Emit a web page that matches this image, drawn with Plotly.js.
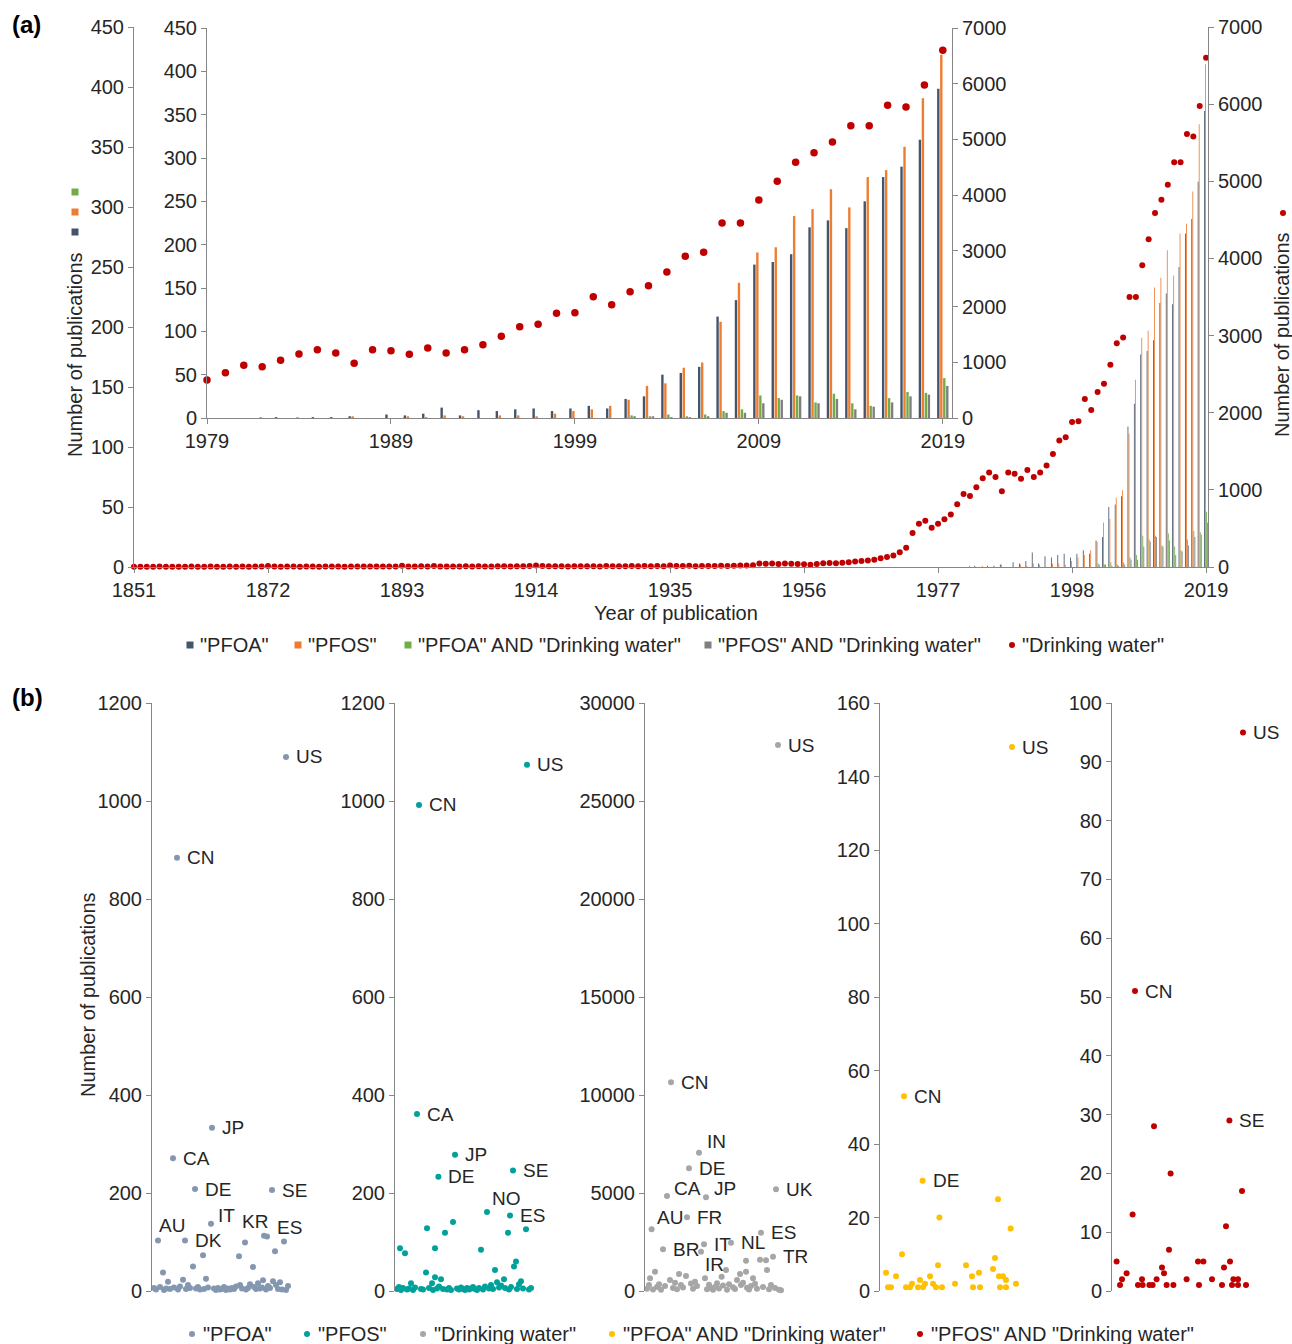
<!DOCTYPE html>
<html>
<head>
<meta charset="utf-8">
<script src="https://cdn.plot.ly/plotly-3.0.1.min.js"></script>
<style>html,body{margin:0;padding:0;background:#fff}#chart{width:1292px;height:1344px}</style>
</head>
<body>
<div id="chart"></div>
<script>
// ---------------- DATA: panel (a) ----------------
const firstYear = 1851;
// "Drinking water" publications per year, 1851-2019 (right axes)
const drinkingWater = [
  3,2,4,3,5,2,3,4,2,5,
  4,3,5,2,4,6,3,5,4,6,
  5,12,6,4,5,7,4,6,5,4,
  6,5,7,4,6,5,8,6,5,7,
  6,8,15,7,6,9,8,12,7,6,
  8,7,9,6,10,8,7,9,11,8,
  9,10,12,20,14,10,9,11,8,10,
  9,11,10,8,12,9,10,11,13,9,
  12,10,14,11,18,13,12,15,11,14,
  13,12,16,14,15,18,20,22,45,42,
  45,40,45,42,40,35,30,40,48,52,
  50,55,60,70,78,85,95,115,130,150,
  190,250,440,560,600,510,560,620,682,813,
  946,921,1035,1149,1226,1167,982,1226,1208,1143,
  1257,1167,1226,1316,1466,1639,1681,1879,1890,2177,
  2034,2267,2375,2621,2902,2974,3500,3500,3913,4248,
  4589,4762,4954,5246,5246,5612,5582,5977,6600
];
const barFirstYear = 1979;
// left axes, 1979-2019
const pfoa = [
  0,0,0,0,1,0,1,1,2,0,
  4,3,5,12,3,9,8,10,11,8,
  11,14,11,22,25,50,52,59,117,136,
  177,180,189,220,228,219,250,278,290,321,380
];
const pfos = [
  0,0,0,1,0,1,0,0,2,0,
  0,2,1,3,2,0,3,3,2,5,
  8,10,14,21,37,40,58,64,111,156,
  191,197,233,241,264,243,278,286,313,369,419
];
const pfoaDW = [
  0,0,0,0,0,0,0,0,0,0,
  0,0,0,0,0,0,0,0,0,0,
  0,0,0,3,2,4,2,4,8,10,
  26,23,26,18,28,17,14,23,30,29,46
];
const pfosDW = [
  0,0,0,0,0,0,0,0,0,0,
  0,0,0,0,0,0,0,0,0,0,
  0,0,0,2,2,1,1,2,6,6,
  17,21,25,17,22,10,13,18,25,27,37
];
const mainTicks = [1851,1872,1893,1914,1935,1956,1977,1998,2019];
const insetTicks = [1979,1989,1999,2009,2019];

// ---------------- DATA: panel (b) ----------------
// x = country position (alphabetical order), y = number of publications; labelled countries first
const pfoaCountry = [3,10.5,12.5,16.5,21.5,29.5,30,46.5,57.5,60,67,
  56,66,5.5,25.5,20.5,43.5,50.5,61.5,8,15.5,27,55.5,60.5,64,68,
  1,2,4,6,7,9,11,13,14,17,18,19,22,23,24,26,28,31,32,33,34,35,36,37,38,39,40,41,42,44,45,47,48,49,51,52,53,54,55,57,58,59,62,63,65,67];
const pfoaCount = [103,271,884,103,208,137,333,99,111,206,1090,
  113,101,38,73,50,71,49,81,19,23,25,22,20,18,10,
  6,3,8,2,5,4,7,3,9,4,12,6,5,8,3,4,7,5,2,6,3,4,8,2,5,3,6,4,9,12,5,3,6,14,8,4,16,5,7,3,10,6,12,4,3,2];
const pfoaLabels = ['AU','CA','CN','DK','DE','IT','JP','KR','ES','SE','US'];

const pfosCountry = [11,12,21.7,30,46,57.5,59,66,
  29,16,25,65.5,56.5,2.5,5,20,43,15.5,50,60.5,59.5,20,23,8,18.5,54.5,63,68,
  1,2,3,4,6,7,9,10,13,14,17,19,21,22,24,26,27,28,31,32,33,34,35,36,37,38,39,40,41,42,44,45,47,48,49,51,52,53,55,57,58,61,62,64,67];
const pfosCount = [361,992,233,278,161,154,246,1074,
  141,128,119,126,119,87,77,87,84,38,43,60,50,28,24,16,16,24,20,6,
  4,8,2,6,3,5,2,7,4,3,6,2,5,9,4,3,6,2,5,3,7,4,2,6,3,5,8,4,2,6,3,9,5,12,4,18,7,11,6,3,8,4,14,5,3];
const pfosLabels = ['CA','CN','DE','JP','NO','ES','SE','US'];

const dwCountry = [3.3,9,11,13,21,22,27,28,29.5,30.5,43,58,64,65.5,66.5,
  50.5,57.5,60.5,61,40.5,38.3,5,2.5,17,20.5,47.5,50.5,12.5,25,30,46,54,
  1,2,4,6,7,8,10,14,15,16,18,19,23,24,26,31,32,33,34,35,36,37,39,41,42,44,45,48,49,51,52,53,55,56,59,62,63,65,67,68];
const dwCount = [3148,2127,4847,10648,3760,6259,7057,2007,2382,4779,2466,2976,1752,5189,27857,
  1548,1600,1570,1071,1071,731,986,646,867,765,867,986,561,476,646,561,646,
  120,300,80,200,350,60,250,150,420,90,300,180,380,110,260,90,320,150,60,210,400,130,280,70,350,190,100,300,420,160,80,250,370,120,200,90,300,150,60,40];
const dwLabels = ['AU','BR','CA','CN','FR','DE','IN','IR','IT','JP','NL','ES','TR','UK','US'];

const pfoaDWCountry = [12,21.3,66,
  59,29.7,65.3,11,57.5,29,43,3,49.5,56.5,8,25,46,20,59.5,61.5,63,26.5,22.5,16,37.5,68,4,5.5,13,15,19,21.5,28,31,46.5,50,60,63];
const pfoaDWCount = [53,30,148,
  25,20,17,10,9,7,7,5,5,6,4,4,4,3,4,4,3,2,2,2,2,2,1,1,1,1,1,1,1,1,1,1,1,1];
const pfoaDWLabels = ['CN','DE','US'];

const pfosDWCountry = [11.5,58.7,65.5,
  21,29.3,65,10.3,57,28.5,2.3,43,45.7,59,56,25,7.3,26,5,15,22.3,37.3,50,60.7,63,4,13,15.3,18.7,20.3,27.3,30.7,43.5,55,60,63,67];
const pfosDWCount = [51,29,95,
  28,20,17,13,11,7,5,5,5,5,4,4,3,3,2,2,2,2,2,2,2,1,1,1,1,1,1,1,1,1,1,1,1];
const pfosDWLabels = ['CN','SE','US'];

const legendA = ['"PFOA"','"PFOS"','"PFOA" AND "Drinking water"','"PFOS" AND "Drinking water"','"Drinking water"'];
const legendB = ['"PFOA"','"PFOS"','"Drinking water"','"PFOA" AND "Drinking water"','"PFOS" AND "Drinking water"'];

// ---------------- STYLE / LAYOUT ----------------
const W = 1292, H = 1344;
const X = px => px / W;
const Y = py => 1 - py / H;
const FONT = 'Liberation Sans, Arial, sans-serif';
const TXT = '#262626';
const AXC = '#868686';
const C = {pfoa:'#44546A', pfos:'#ED7D31', pfoaDW:'#70AD47', pfosDW:'#7F7F7F', dw:'#C00000',
  bPfoa:'#8497B0', bPfos:'#00A19B', bDw:'#A6A6A6', bPfoaDW:'#FFC000', bPfosDW:'#C00000'};

const dwYears = drinkingWater.map((_, i) => firstYear + i);
const barYears = pfoa.map((_, i) => barFirstYear + i);
const insetDW = drinkingWater.slice(barFirstYear - firstYear);

function barTrace(y, color, xa, ya) {
  return {type:'bar', x:barYears, y:y, xaxis:xa, yaxis:ya, marker:{color:color, line:{width:0}},
    hoverinfo:'skip', cliponaxis:false};
}
function dotTrace(x, y, xa, ya, size) {
  return {type:'scatter', mode:'markers', x:x, y:y, xaxis:xa, yaxis:ya,
    marker:{color:C.dw, size:size}, cliponaxis:false, hoverinfo:'skip'};
}
function countryTrace(x, y, color, xa, ya) {
  return {type:'scatter', mode:'markers', x:x, y:y, xaxis:xa, yaxis:ya,
    marker:{color:color, size:6}, cliponaxis:false, hoverinfo:'skip'};
}

const data = [
  barTrace(pfoa, C.pfoa, 'x', 'y'),
  barTrace(pfos, C.pfos, 'x', 'y'),
  barTrace(pfoaDW, C.pfoaDW, 'x', 'y'),
  barTrace(pfosDW, C.pfosDW, 'x', 'y'),
  dotTrace(dwYears, drinkingWater, 'x', 'y2', 6),
  barTrace(pfoa, C.pfoa, 'x2', 'y3'),
  barTrace(pfos, C.pfos, 'x2', 'y3'),
  barTrace(pfoaDW, C.pfoaDW, 'x2', 'y3'),
  barTrace(pfosDW, C.pfosDW, 'x2', 'y3'),
  dotTrace(barYears, insetDW, 'x2', 'y4', 7.5),
  countryTrace(pfoaCountry, pfoaCount, C.bPfoa, 'x3', 'y5'),
  countryTrace(pfosCountry, pfosCount, C.bPfos, 'x4', 'y6'),
  countryTrace(dwCountry, dwCount, C.bDw, 'x5', 'y7'),
  countryTrace(pfoaDWCountry, pfoaDWCount, C.bPfoaDW, 'x6', 'y8'),
  countryTrace(pfosDWCountry, pfosDWCount, C.bPfosDW, 'x7', 'y9')
];

const tickfont = {family:FONT, size:20, color:TXT};
function yAxis(domain, range, dtick, anchor, extra) {
  return Object.assign({domain:domain, range:range, dtick:dtick, tick0:0, anchor:anchor, tickformat:'d',
    showline:true, linecolor:AXC, linewidth:1, ticks:'outside', ticklen:5, tickcolor:AXC,
    showgrid:false, zeroline:false, tickfont:tickfont, fixedrange:true}, extra || {});
}
function xAxis(domain, range, tickvals, anchor) {
  return {domain:domain, range:range, tickvals:tickvals, ticktext:tickvals.map(String), anchor:anchor,
    showline:true, linecolor:AXC, linewidth:1, ticks:'outside', ticklen:5, tickcolor:AXC,
    showgrid:false, zeroline:false, tickfont:tickfont, fixedrange:true};
}
function hiddenX(domain, anchor) {
  return {domain:domain, range:[0,85], anchor:anchor, visible:false, fixedrange:true};
}

const bTop = Y(703), bBot = Y(1291);
const bx = [152, 395, 645, 880, 1112];
const bDom = bx.map(p => [X(p), Math.min(1, X(p + 170))]);

const layout = {
  width:W, height:H, margin:{l:0, r:0, t:0, b:0},
  paper_bgcolor:'#ffffff', plot_bgcolor:'rgba(0,0,0,0)',
  showlegend:false, barmode:'group', bargap:0.35, bargroupgap:0.2,
  font:{family:FONT, color:TXT},
  xaxis: xAxis([X(134), X(1208)], [1851, 2019.3], mainTicks, 'y'),
  yaxis: yAxis([Y(567), Y(27)], [0, 450], 50, 'x'),
  yaxis2: yAxis([Y(567), Y(27)], [0, 7000], 1000, 'x', {overlaying:'y', side:'right'}),
  xaxis2: xAxis([X(207), X(952)], [1979, 2019.5], insetTicks, 'y3'),
  yaxis3: yAxis([Y(418), Y(28)], [0, 450], 50, 'x2'),
  yaxis4: yAxis([Y(418), Y(28)], [0, 7000], 1000, 'x2', {overlaying:'y3', side:'right'}),
  xaxis3: hiddenX(bDom[0], 'y5'),
  xaxis4: hiddenX(bDom[1], 'y6'),
  xaxis5: hiddenX(bDom[2], 'y7'),
  xaxis6: hiddenX(bDom[3], 'y8'),
  xaxis7: hiddenX(bDom[4], 'y9'),
  yaxis5: yAxis([bBot, bTop], [0, 1200], 200, 'x3'),
  yaxis6: yAxis([bBot, bTop], [0, 1200], 200, 'x4'),
  yaxis7: yAxis([bBot, bTop], [0, 30000], 5000, 'x5'),
  yaxis8: yAxis([bBot, bTop], [0, 160], 20, 'x6'),
  yaxis9: yAxis([bBot, bTop], [0, 100], 10, 'x7'),
  annotations: [],
  shapes: []
};

function ann(text, px, py, opts) {
  layout.annotations.push(Object.assign({text:text, xref:'paper', yref:'paper', x:X(px), y:Y(py),
    showarrow:false, xanchor:'left', yanchor:'middle', font:{family:FONT, size:20, color:TXT}}, opts || {}));
}
function key(type, color, px, py, r) {
  layout.shapes.push({type:type, xref:'paper', yref:'paper', xsizemode:'pixel', ysizemode:'pixel',
    xanchor:X(px), yanchor:Y(py), x0:-r, x1:r, y0:-r, y1:r, fillcolor:color, line:{width:0}});
}
// country labels: placed next to their point; offsets [dx to text left edge, dy up] in px
function countryLabels(xs, ys, labels, xa, ya, offsets) {
  labels.forEach((lab, i) => {
    const o = offsets[lab] || [8, 0];
    layout.annotations.push({text:lab, xref:xa, yref:ya, x:xs[i], y:ys[i], showarrow:false,
      xanchor:'left', yanchor:'middle', xshift:o[0], yshift:o[1],
      font:{family:FONT, size:19, color:TXT}});
  });
}
countryLabels(pfoaCountry, pfoaCount, pfoaLabels, 'x3', 'y5',
  {AU:[-1, 15], KR:[-5, 21], IT:[5, 8], ES:[8, 9]});
countryLabels(pfosCountry, pfosCount, pfosLabels, 'x4', 'y6', {NO:[3, 14]});
countryLabels(dwCountry, dwCount, dwLabels, 'x5', 'y7',
  {IN:[6, 11], CA:[5, 8], JP:[6, 9], AU:[3, 12], IR:[2, -13]});
countryLabels(pfoaDWCountry, pfoaDWCount, pfoaDWLabels, 'x6', 'y8', {});
countryLabels(pfosDWCountry, pfosDWCount, pfosDWLabels, 'x7', 'y9', {});

// panel labels
ann('<b>(a)</b>', 10, 25, {font:{family:FONT, size:24, color:'#000'}});
ann('<b>(b)</b>', 10, 697, {font:{family:FONT, size:24, color:'#000'}});
// axis titles
ann('Number of publications', 75, 355, {textangle:-90, xanchor:'center'});
ann('Number of publications', 1282, 335, {textangle:-90, xanchor:'center'});
ann('Year of publication', 676, 613, {xanchor:'center'});
ann('Number of publications', 88, 995, {textangle:-90, xanchor:'center'});
// left-title legend keys and right-title key (as in the original)
key('rect', C.pfoaDW, 75, 192, 3.5);
key('rect', C.pfos, 75, 212, 3.5);
key('rect', C.pfoa, 75, 232, 3.5);
key('circle', C.dw, 1283, 213, 3);

// legend (a)
const legAKeys = [[190, C.pfoa, 'rect'], [298, C.pfos, 'rect'], [408, C.pfoaDW, 'rect'], [708, C.pfosDW, 'rect'], [1012, C.dw, 'circle']];
legAKeys.forEach((k, i) => {
  key(k[2], k[1], k[0], 645, k[2] === 'rect' ? 3.5 : 3);
  ann(legendA[i], k[0] + 8, 645);
});
// legend (b)
const legBKeys = [[192, C.bPfoa], [307, C.bPfos], [423, C.bDw], [612, C.bPfoaDW], [920, C.bPfosDW]];
legBKeys.forEach((k, i) => {
  key('circle', k[1], k[0], 1334, 3);
  ann(legendB[i], k[0] + 9, 1334);
});

Plotly.newPlot('chart', data, layout, {staticPlot:true, displayModeBar:false});
</script>
</body>
</html>
